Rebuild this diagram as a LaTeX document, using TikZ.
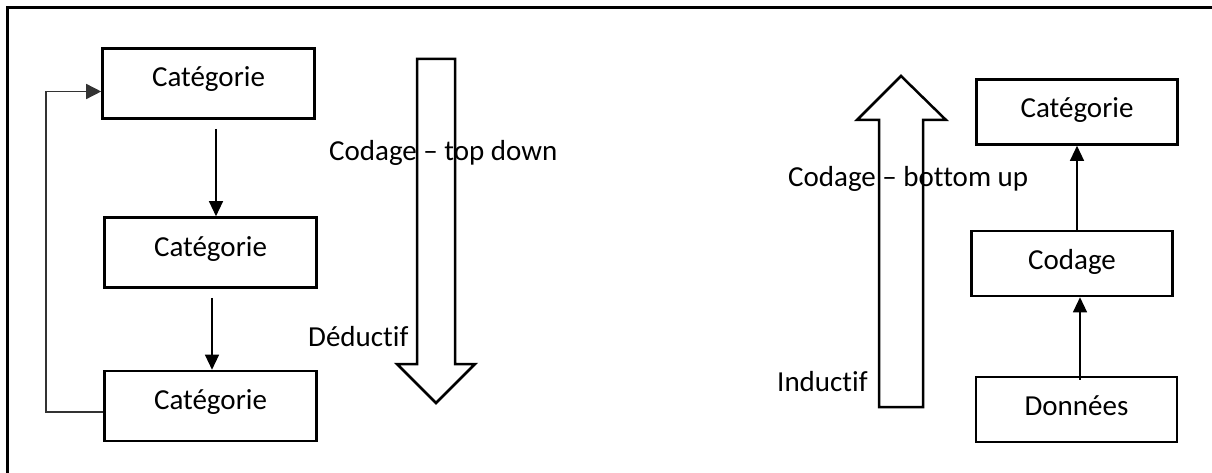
\documentclass[tikz,border=0pt]{standalone}
\usepackage{fontspec}
\setmainfont{Carlito}[Ligatures={NoCommon}]
\usetikzlibrary{arrows.meta}
\begin{document}
\begin{tikzpicture}[x=1pt,y=-1pt,
  font=\fontsize{29}{34}\selectfont,
  box/.style={draw,line width=2.6pt,rectangle,inner sep=0pt,
    minimum width=212pt,minimum height=70pt,text height=17pt,text depth=10pt},
  rbox/.style={box,minimum width=201pt,minimum height=65pt,text height=21pt,text depth=10pt},
  lbl/.style={anchor=base west,inner sep=0pt},
  arr/.style={line width=1.3pt,-{Triangle[length=15pt,width=14pt]}},
  fbline/.style={line width=1.5pt,draw=black!80,-{Triangle[length=15pt,width=15pt]}},
  bigarrow/.style={draw,line width=2.5pt,line join=miter},
  frameline/.style={line width=2.7pt}]
\useasboundingbox (0,0) rectangle (1212,473);
% frame
\draw[frameline] (7.5,473) -- (7.5,7.5) -- (1212,7.5);
% left boxes
\node[box] (b1) at (208.5,83.5) {Catégorie};
\node[box] (b2) at (210.5,252.5) {Catégorie};
\node[box] (b3) at (210.5,406) {Catégorie};
% right boxes
\node[rbox] (r1) at (1077,112) {Catégorie};
\node[rbox] (r2) at (1072,263.5) {Codage};
\node[rbox] (r3) at (1076.5,409.5) {Données};
% left connectors
\draw[arr,shorten <=9pt] ([xshift=7.5pt]b1.south) -- ([xshift=7.5pt]b1.south |- b2.north);
\draw[arr,shorten <=9pt] ([xshift=1.5pt]b2.south) -- ([xshift=1.5pt]b2.south |- b3.north);
\coordinate (fb) at (46,412);
\draw[fbline] ([yshift=-6pt]b3.west) -- (fb) |- ([yshift=-8pt]b1.west);
% right connectors
\draw[arr] ([xshift=5pt]r2.north) -- ([xshift=5pt]r2.north |- r1.south);
\draw[arr,shorten <=-4pt] ([xshift=3.5pt]r3.north) -- ([xshift=3.5pt]r3.north |- r2.south);
% big arrows
\draw[bigarrow] (417,59) -- (455,59) -- (455,364) -- (475,364) -- (436,403) -- (397,364) -- (417,364) -- cycle;
\draw[bigarrow] (879,407) -- (923,407) -- (923,120) -- (946,120) -- (901,76) -- (857,120) -- (879,120) -- cycle;
% labels
\node[lbl] (td) at (329,161) {Codage – top down};
\node[lbl] (de) at (308,346) {Déductif};
\node[lbl] (bu) at (788,186) {Codage – bottom up};
\node[lbl] (in) at (777,391) {Inductif};
\end{tikzpicture}
\end{document}
